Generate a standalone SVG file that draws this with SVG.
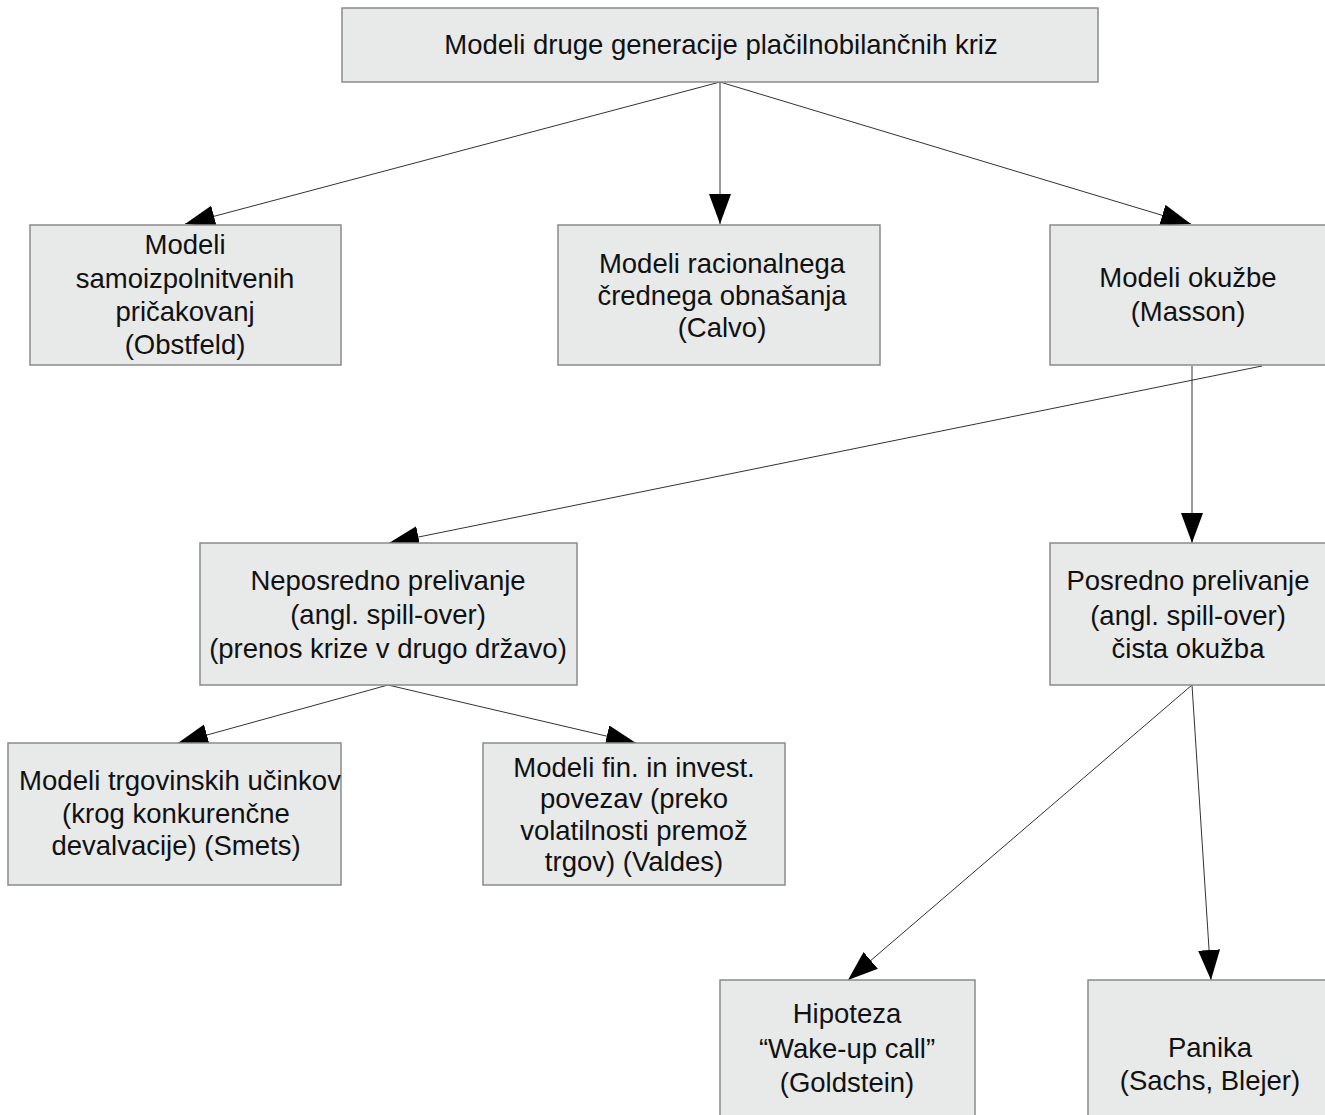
<svg xmlns="http://www.w3.org/2000/svg" width="1325" height="1115" viewBox="0 0 1325 1115">
<style>
  .box { fill: #e8e9e9; stroke: #8a8a8a; stroke-width: 1.5; }
  .t { font-family: "Liberation Sans", Arial, sans-serif; font-size: 27.5px; fill: #111; text-anchor: middle; }
  .c { stroke: #333; stroke-width: 1; fill: none; marker-end: url(#ah); }
</style>
<defs>
  <marker id="ah" markerUnits="userSpaceOnUse" markerWidth="32" markerHeight="24" refX="30" refY="11" orient="auto">
    <path d="M0,0 L30,11 L0,22 z" fill="#000"/>
  </marker>
</defs>
<rect width="1325" height="1115" fill="#fff"/>
<g id="connectors">
  <line class="c" x1="720" y1="82" x2="185" y2="224"/>
  <line class="c" x1="720" y1="82" x2="720" y2="224"/>
  <line class="c" x1="720" y1="82" x2="1191" y2="224"/>
  <line class="c" x1="1262" y1="366" x2="389" y2="543"/>
  <line class="c" x1="1192" y1="366" x2="1192" y2="543"/>
  <line class="c" x1="388" y1="685" x2="178" y2="743"/>
  <line class="c" x1="388" y1="685" x2="636" y2="743"/>
  <line class="c" x1="1192" y1="685" x2="848" y2="980"/>
  <line class="c" x1="1192" y1="685" x2="1211" y2="980"/>
</g>
<g id="n0">
  <rect class="box" x="342" y="8" width="756" height="74"/>
  <text class="t" x="721" y="54">Modeli druge generacije plačilnobilančnih kriz</text>
</g>
<g id="n1">
  <rect class="box" x="30" y="225" width="311" height="140"/>
  <text class="t" x="185" y="254">Modeli</text>
  <text class="t" x="185" y="288">samoizpolnitvenih</text>
  <text class="t" x="185" y="321">pričakovanj</text>
  <text class="t" x="185" y="354">(Obstfeld)</text>
</g>
<g id="n2">
  <rect class="box" x="558" y="225" width="322" height="140"/>
  <text class="t" x="722" y="273">Modeli racionalnega</text>
  <text class="t" x="722" y="305">črednega obnašanja</text>
  <text class="t" x="722" y="337">(Calvo)</text>
</g>
<g id="n3">
  <rect class="box" x="1050" y="225" width="280" height="140"/>
  <text class="t" x="1188" y="287">Modeli okužbe</text>
  <text class="t" x="1188" y="321">(Masson)</text>
</g>
<g id="n4">
  <rect class="box" x="200" y="543" width="377" height="142"/>
  <text class="t" x="388" y="590">Neposredno prelivanje</text>
  <text class="t" x="388" y="624">(angl. spill-over)</text>
  <text class="t" x="388" y="658">(prenos krize v drugo državo)</text>
</g>
<g id="n5">
  <rect class="box" x="1050" y="543" width="280" height="142"/>
  <text class="t" x="1188" y="590">Posredno prelivanje</text>
  <text class="t" x="1188" y="625">(angl. spill-over)</text>
  <text class="t" x="1188" y="658">čista okužba</text>
</g>
<g id="n6">
  <rect class="box" x="8" y="743" width="333" height="142"/>
  <text class="t" x="180" y="790" textLength="322" lengthAdjust="spacingAndGlyphs">Modeli trgovinskih učinkov</text>
  <text class="t" x="176" y="823">(krog konkurenčne</text>
  <text class="t" x="176" y="855">devalvacije) (Smets)</text>
</g>
<g id="n7">
  <rect class="box" x="483" y="743" width="302" height="142"/>
  <text class="t" x="634" y="777">Modeli fin. in invest.</text>
  <text class="t" x="634" y="808">povezav (preko</text>
  <text class="t" x="634" y="840">volatilnosti premož</text>
  <text class="t" x="634" y="871">trgov) (Valdes)</text>
</g>
<g id="n8">
  <rect class="box" x="720" y="980" width="255" height="145"/>
  <text class="t" x="847" y="1023">Hipoteza</text>
  <text class="t" x="847" y="1058">“Wake-up call”</text>
  <text class="t" x="847" y="1092">(Goldstein)</text>
</g>
<g id="n9">
  <rect class="box" x="1088" y="980" width="245" height="145"/>
  <text class="t" x="1210" y="1057">Panika</text>
  <text class="t" x="1210" y="1090">(Sachs, Blejer)</text>
</g>
</svg>
